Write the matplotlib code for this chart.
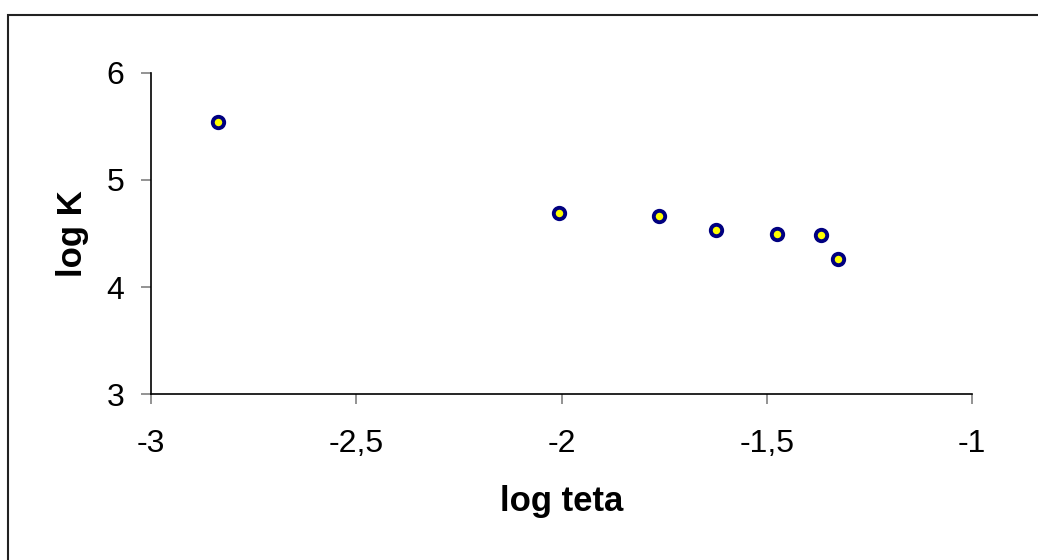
import matplotlib.pyplot as plt
from matplotlib.patches import Rectangle
from matplotlib.ticker import FuncFormatter

# dane
log_teta = [-2.838, -2.007, -1.762, -1.623, -1.476, -1.367, -1.327]
log_K = [5.54, 4.69, 4.66, 4.53, 4.50, 4.49, 4.26]

plt.rcParams['font.family'] = ['Liberation Sans', 'DejaVu Sans']

fig = plt.figure(figsize=(10.38, 5.6), dpi=100)
# osie: x od 151 do 972 px, y od 73 do 394 px
ax = fig.add_axes([151 / 1038, 1 - 394.3 / 560, 821 / 1038, 321.6 / 560])

ax.plot(log_teta, log_K, linestyle='none', marker='o', markersize=8.2,
        markerfacecolor='#ffff00', markeredgecolor='#000080', markeredgewidth=2.8,
        clip_on=False)

ax.set_xlim(-3, -1)
ax.set_ylim(3, 6)
ax.set_xticks([-3, -2.5, -2, -1.5, -1])
ax.set_yticks([3, 4, 5, 6])
komma = FuncFormatter(lambda v, p: ('%g' % v).replace('.', ','))
ax.xaxis.set_major_formatter(komma)
ax.yaxis.set_major_formatter(komma)

for s in ['top', 'right']:
    ax.spines[s].set_visible(False)
for s in ['left', 'bottom']:
    ax.spines[s].set_linewidth(1.2)
    ax.spines[s].set_color('black')

ax.tick_params(axis='x', direction='out', length=7, width=1.2, color='#808080',
               labelsize=23, pad=18)
ax.tick_params(axis='y', direction='out', length=7, width=1.2, color='#808080',
               labelsize=23, pad=12)

ax.set_xlabel('log teta', fontsize=25, fontweight='bold', labelpad=19)
ax.set_ylabel('log K', fontsize=25, fontweight='bold', labelpad=13)

# ramka wokol wykresu (prawa i dolna krawedz poza obrazem)
fig.patches.append(Rectangle((8 / 1038, -0.1), 1.2, 0.1 + 1 - 15 / 560,
                             transform=fig.transFigure, fill=False,
                             edgecolor='#222222', linewidth=1.5))

plt.savefig('out.png', dpi=100)
